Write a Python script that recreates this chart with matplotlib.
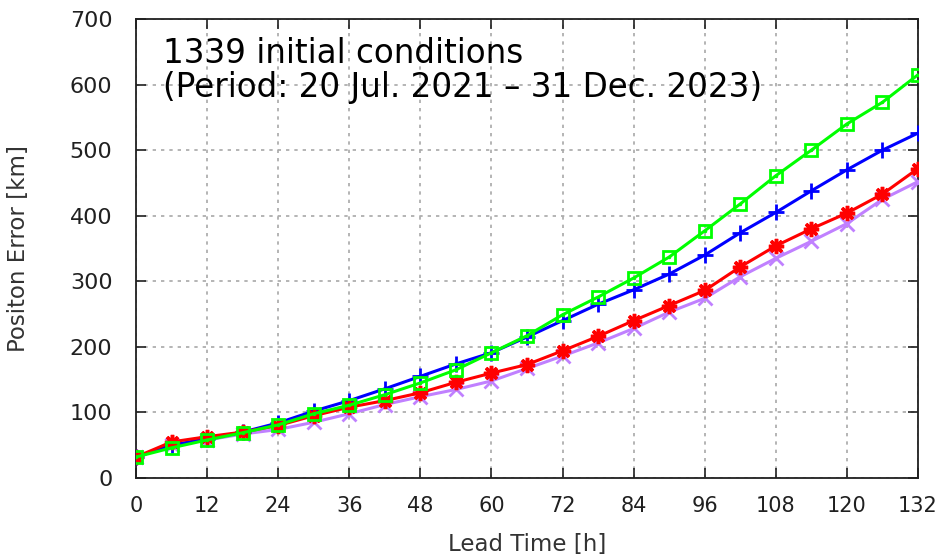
import matplotlib
matplotlib.use("Agg")
import matplotlib.pyplot as plt
import numpy as np

lead_time = [0, 6, 12, 18, 24, 30, 36, 42, 48, 54, 60, 66, 72, 78, 84, 90, 96, 102, 108, 114, 120, 126, 132]

green_vals = [32, 46, 58, 69, 81, 98, 111, 127, 145, 165, 191, 217, 249, 276, 305, 337, 377, 418, 461, 500, 540, 573, 615]
blue_vals = [32, 50, 60, 70, 84, 102, 118, 136, 155, 174, 191, 215, 240, 265, 287, 311, 340, 374, 405, 438, 470, 500, 526]
red_vals = [32, 55, 63, 70, 80, 95, 108, 118, 130, 146, 160, 173, 194, 216, 240, 263, 286, 322, 354, 380, 404, 433, 472]
purple_vals = [32, 50, 58, 67, 74, 85, 98, 112, 124, 135, 148, 167, 186, 206, 228, 253, 274, 307, 335, 361, 388, 425, 452]

x_ticks = [0, 12, 24, 36, 48, 60, 72, 84, 96, 108, 120, 132]
y_ticks = [0, 100, 200, 300, 400, 500, 600, 700]

fig = plt.figure(figsize=(9.4, 5.56), dpi=100)
ax = fig.add_axes([136/940, 1-478/556, (918-136)/940, (478-19)/556])

lw = 2.2
ax.plot(lead_time, purple_vals, color="#c080ff", lw=lw, marker="x", ms=10, mew=2, zorder=3)
ax.plot(lead_time, blue_vals, color="#0000ff", lw=lw, marker="+", ms=12, mew=2, zorder=4)
ax.plot(lead_time, red_vals, color="#ff0000", lw=lw, marker=(8, 2, 0), ms=11, mew=2.5, zorder=5)
ax.plot(lead_time, green_vals, color="#00ff00", lw=lw, marker="s", ms=9, mew=2,
        mfc="none", zorder=6)
ax.plot(lead_time, green_vals, color="#00ff00", lw=0, marker=".", ms=3, zorder=6)

ax.set_xlim(0, 132)
ax.set_ylim(0, 700)
ax.set_xticks(x_ticks)
ax.set_yticks(y_ticks)
ax.tick_params(direction="in", length=7, width=1.2, top=True, right=True,
               colors="#202020")
ax.tick_params(axis="y", labelsize=16, pad=17)
ax.tick_params(axis="x", labelsize=15, pad=13)
ax.grid(True, color="#a8a8a8", linestyle=(0, (2, 3)), linewidth=1.2)
for s in ax.spines.values():
    s.set_linewidth(1.3)
    s.set_color("#202020")

ax.set_xlabel("Lead Time [h]", fontsize=16.5, color="#333333")
ax.set_ylabel("Positon Error [km]", fontsize=16.5, color="#333333")
ax.xaxis.set_label_coords(0.5, -0.12)
ax.yaxis.set_label_coords(-0.1355, 0.5)

ax.text(0.0345, 0.830, "1339 initial conditions\n(Period: 20 Jul. 2021 \u2013 31 Dec. 2023)",
        transform=ax.transAxes, ha="left", va="baseline", fontsize=23.5,
        family=["DejaVu Sans"], linespacing=1.05, color="black")

fig.savefig("out.png", dpi=100)
